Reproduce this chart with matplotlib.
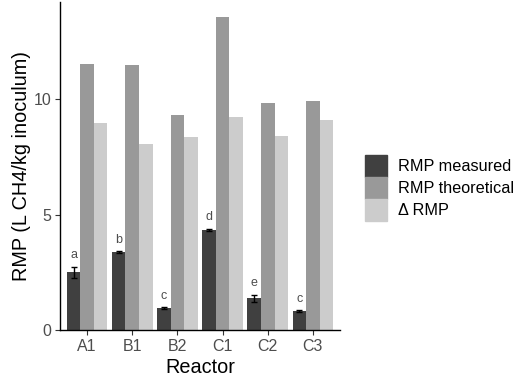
import matplotlib
matplotlib.use("Agg")
import matplotlib.pyplot as plt
import matplotlib.patches as mpatches
import numpy as np

plt.rcParams['font.family'] = ['Liberation Sans', 'DejaVu Sans']

reactors = ["A1", "B1", "B2", "C1", "C2", "C3"]
rmp_measured = [2.50, 3.36, 0.94, 4.33, 1.37, 0.81]
rmp_measured_err = [0.24, 0.04, 0.05, 0.06, 0.15, 0.04]
rmp_theoretical = [11.51, 11.47, 9.31, 13.55, 9.83, 9.91]
delta_rmp = [8.96, 8.05, 8.35, 9.22, 8.40, 9.09]
letters = ["a", "b", "c", "d", "e", "c"]
series_names = ["RMP measured", "RMP theoretical", "\u0394 RMP"]
colors = ["#404040", "#999999", "#CCCCCC"]

fig = plt.figure(figsize=(5.25, 3.78), dpi=100)
ax = fig.add_axes([60/525, 48/378, 280/525, 328/378])

x = np.arange(len(reactors))
w = 0.3
ax.bar(x - w, rmp_measured, width=w, color=colors[0], label=series_names[0])
ax.bar(x, rmp_theoretical, width=w, color=colors[1], label=series_names[1])
ax.bar(x + w, delta_rmp, width=w, color=colors[2], label=series_names[2])
ax.errorbar(x - w, rmp_measured, yerr=rmp_measured_err, fmt='none',
            ecolor='black', elinewidth=1.0, capsize=2.2, capthick=1.0)
for xi, m, e, l in zip(x, rmp_measured, rmp_measured_err, letters):
    ax.text(xi - w, m + e + 0.5, l, ha='center', va='center',
            fontsize=9, color='#4D4D4D')

ax.set_xlim(-0.6, 5.6)
ax.set_ylim(0, 14.2)
ax.set_xticks(x)
ax.set_xticklabels(reactors)
ax.set_yticks([0, 5, 10])
ax.tick_params(axis='both', labelsize=11.5, labelcolor='#4D4D4D', length=3.5,
               width=0.8, color='#333333', pad=2.5)
ax.tick_params(axis='x', pad=3.2)
for s in ['top', 'right']:
    ax.spines[s].set_visible(False)
for s in ['left', 'bottom']:
    ax.spines[s].set_linewidth(1.0)
    ax.spines[s].set_color('black')
ax.set_xlabel("Reactor", fontsize=14.3, labelpad=2.5)
ax.set_ylabel("RMP (L CH4/kg inoculum)", fontsize=14.3, labelpad=2)

handles = [mpatches.Patch(color=c) for c in colors]
fig.legend(handles, series_names, loc='upper left',
           bbox_to_anchor=(365/525, 1 - 155/378), frameon=False,
           fontsize=11.7, handlelength=1.35, handleheight=1.7,
           handletextpad=0.65, labelspacing=0.0, borderpad=0, borderaxespad=0)

fig.savefig("out.png", dpi=100)
